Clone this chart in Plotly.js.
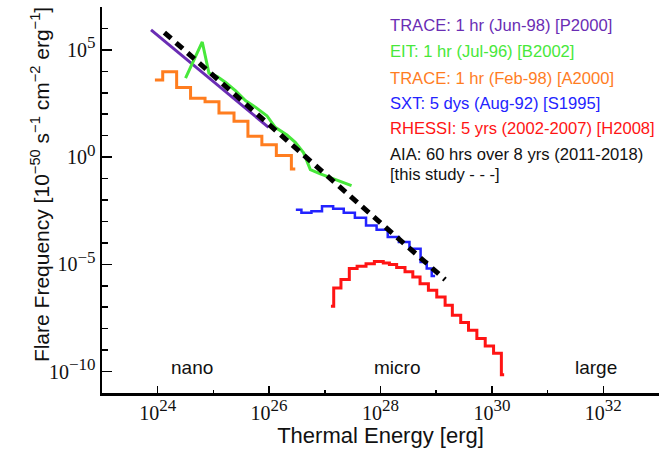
<!DOCTYPE html>
<html>
<head>
<meta charset="utf-8">
<script src="https://cdn.plot.ly/plotly-3.0.1.min.js"></script>
<style>html,body{margin:0;padding:0;background:#fff;}#chart{width:659px;height:458px;}</style>
</head>
<body>
<div id="chart"></div>
<script>
// ---- Data (log10 of energy [erg] and log10 of flare frequency) ----
// TRACE 1 hr (Jun-98) [P2000] power law
const p2000LogE = [23.88, 25.99];
const p2000LogF = [5.93, 1.39];
// EIT 1 hr (Jul-96) [B2002]
const b2002LogE = [24.50, 24.80, 24.92, 25.07, 25.22, 25.40, 25.58, 25.76, 25.96, 26.11, 26.32, 26.47, 26.62, 26.74, 26.92, 27.13, 27.48];
const b2002LogF = [3.68, 5.37, 3.92, 3.76, 3.48, 3.09, 2.63, 2.32, 1.93, 1.39, 1.03, 0.69, 0.20, -0.58, -0.78, -0.98, -1.33];
// TRACE 1 hr (Feb-98) [A2000] histogram: bin edges and levels
const a2000EdgesLogE = [23.95, 24.09, 24.34, 24.59, 24.85, 25.10, 25.37, 25.62, 25.87, 26.13, 26.40, 26.47];
const a2000LevelsLogF = [3.60, 3.98, 3.25, 2.75, 2.58, 2.06, 1.67, 0.97, 0.58, 0.07, -0.55];
// SXT 5 dys (Aug-92) [S1995] histogram
const s1995EdgesLogE = [26.48, 26.58, 26.76, 26.95, 27.15, 27.34, 27.54, 27.74, 27.93, 28.13, 28.33, 28.52, 28.72, 28.83, 28.92, 28.98];
const s1995LevelsLogF = [-2.46, -2.60, -2.53, -2.29, -2.41, -2.60, -2.83, -3.19, -3.39, -3.73, -3.96, -4.27, -4.89, -5.20, -5.54];
// RHESSI 5 yrs (2002-2007) [H2008] histogram
const h2008EdgesLogE = [27.11, 27.16, 27.29, 27.44, 27.58, 27.74, 27.89, 28.05, 28.16, 28.29, 28.44, 28.58, 28.71, 28.86, 29.01, 29.16, 29.29, 29.44, 29.58, 29.73, 29.88, 30.03, 30.17, 30.22];
const h2008LevelsLogF = [-6.95, -6.10, -5.71, -5.20, -5.09, -4.97, -4.87, -4.94, -5.01, -5.15, -5.35, -5.59, -5.90, -6.21, -6.52, -6.91, -7.37, -7.71, -8.07, -8.46, -8.81, -9.15, -10.15];
// AIA 60 hrs over 8 yrs (this study) power law
const aiaLogE = [24.12, 29.16];
const aiaLogF = [5.81, -5.71];

// Axis tick exponents
const xMajorExp = [24, 26, 28, 30, 32];
const xMinorExp = [23, 25, 27, 29, 31, 33];
const yMajorExp = [5, 0, -5, -10];
const yMinorExp = [7, 6, 4, 3, 2, 1, -1, -2, -3, -4, -6, -7, -8, -9, -11];

// Legend / region labels
const legendTexts = [
  'TRACE: 1 hr (Jun-98) [P2000]',
  'EIT: 1 hr (Jul-96) [B2002]',
  'TRACE: 1 hr (Feb-98) [A2000]',
  'SXT: 5 dys (Aug-92) [S1995]',
  'RHESSI: 5 yrs (2002-2007) [H2008]',
  'AIA: 60 hrs over 8 yrs (2011-2018)',
  '[this study - - -]'
];
const regionLabels = ['nano', 'micro', 'large'];
const xTitle = 'Thermal Energy [erg]';
const yTitle = 'Flare Frequency [10<sup>\u221250</sup> s<sup>\u22121</sup> cm<sup>\u22122</sup> erg<sup>\u22121</sup>]';

// ---- helpers ----
const pow10 = a => a.map(v => Math.pow(10, v));
const stepY = lv => pow10(lv.concat([lv[lv.length - 1]]));
const expLabel = e => '10<sup><span style="font-size:17px">' + String(e).replace('-', '\u2212') + '</span></sup>';

const colors = {purple: '#6a2db4', green: '#47e83a', orange: '#ff7d1f', blue: '#2323ff', red: '#ff1414', black: '#111111'};

const traces = [
  {x: pow10(p2000LogE), y: pow10(p2000LogF), mode: 'lines', line: {color: colors.purple, width: 3}, name: 'P2000'},
  {x: pow10(b2002LogE), y: pow10(b2002LogF), mode: 'lines', line: {color: colors.green, width: 3}, name: 'B2002'},
  {x: pow10(a2000EdgesLogE), y: stepY(a2000LevelsLogF), mode: 'lines', line: {color: colors.orange, width: 3, shape: 'hv'}, name: 'A2000'},
  {x: pow10(s1995EdgesLogE), y: stepY(s1995LevelsLogF), mode: 'lines', line: {color: colors.blue, width: 2.5, shape: 'hv'}, name: 'S1995'},
  {x: pow10(h2008EdgesLogE), y: stepY(h2008LevelsLogF), mode: 'lines', line: {color: colors.red, width: 3, shape: 'hv'}, name: 'H2008'},
  {x: pow10(aiaLogE), y: pow10(aiaLogF), mode: 'lines', line: {color: '#000', width: 5, dash: '9px,6.5px'}, name: 'AIA'}
];

const legendColors = [colors.purple, colors.green, colors.orange, colors.blue, colors.red, colors.black, colors.black];
const legendY = [0.951, 0.884, 0.815, 0.749, 0.684, 0.617, 0.567];
const annotations = legendTexts.map((t, i) => ({
  text: t, xref: 'paper', yref: 'paper', x: 0.5135, y: legendY[i],
  xanchor: 'left', yanchor: 'middle', showarrow: false,
  font: {family: 'Liberation Sans, Arial, sans-serif', size: 16.6, color: legendColors[i]}
}));
const regionX = [0.161, 0.529, 0.887];
regionLabels.forEach((t, i) => annotations.push({
  text: t, xref: 'paper', yref: 'paper', x: regionX[i], y: 0.067,
  xanchor: 'center', yanchor: 'middle', showarrow: false,
  font: {family: 'Liberation Sans, Arial, sans-serif', size: 19, color: '#111'}
}));
// y-axis title (placed as rotated text to match the reference's vertical offset)
annotations.push({
  text: yTitle, xref: 'paper', yref: 'paper', x: -0.111, y: 0.539, textangle: -90,
  xanchor: 'center', yanchor: 'middle', showarrow: false,
  font: {family: 'Liberation Sans, Arial, sans-serif', size: 21, color: '#111'}
});

const axisCommon = {
  type: 'log', showgrid: false, zeroline: false, showline: true, linecolor: '#000', linewidth: 2.5,
  ticks: 'inside', tickcolor: '#000', tickwidth: 1.5, tickmode: 'array',
  tickfont: {family: 'Liberation Serif, Times New Roman, serif', size: 20, color: '#111'}
};

const layout = {
  width: 659, height: 458,
  margin: {l: 102, r: 0, t: 7, b: 65},
  paper_bgcolor: '#fff', plot_bgcolor: '#fff',
  showlegend: false,
  xaxis: Object.assign({}, axisCommon, {
    range: [23, 33],
    tickvals: pow10(xMajorExp), ticktext: xMajorExp.map(expLabel), ticklen: 7,
    minor: {tickmode: 'array', tickvals: pow10(xMinorExp), ticks: 'inside', ticklen: 3, tickwidth: 1.5, tickcolor: '#000', showgrid: false},
    title: {text: xTitle, font: {family: 'Liberation Sans, Arial, sans-serif', size: 22, color: '#111'}, standoff: 5}
  }),
  yaxis: Object.assign({}, axisCommon, {
    range: [-11, 7],
    tickvals: pow10(yMajorExp), ticktext: yMajorExp.map(expLabel), ticklen: 10,
    minor: {tickmode: 'array', tickvals: pow10(yMinorExp), ticks: 'inside', ticklen: 6, tickwidth: 1.5, tickcolor: '#000', showgrid: false}
  }),
  annotations: annotations
};

Plotly.newPlot('chart', traces, layout, {staticPlot: true, displayModeBar: false});
</script>
</body>
</html>
